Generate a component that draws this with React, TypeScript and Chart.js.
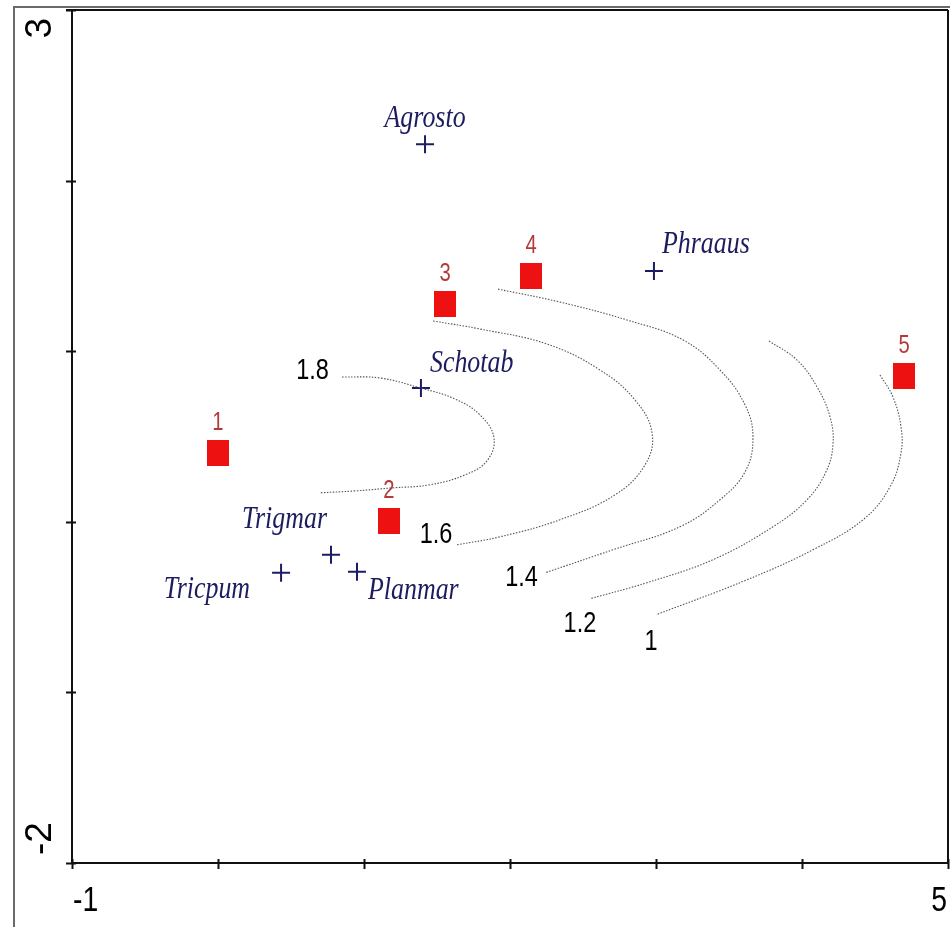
import React, { useEffect, useRef } from 'react';
import { Chart, registerables } from 'chart.js';

Chart.register(...registerables);

// ---- data ----
const sampleNames = ['1', '2', '3', '4', '5'];
const sampleX = [0.0, 1.171, 1.555, 2.144, 4.699];
const sampleY = [0.404, 0.006, 1.276, 1.44, 0.855];

const speciesNames = ['Agrosto', 'Phraaus', 'Schotab', 'Trigmar', 'Tricpum', 'Planmar'];
const speciesX = [1.418, 2.986, 1.39, 0.774, 0.432, 0.952];
const speciesY = [2.213, 1.47, 0.785, -0.193, -0.299, -0.293];

const contourLevels = ['1.8', '1.6', '1.4', '1.2', '1'];

const contour18X = [0.849, 1.11, 1.384, 1.623, 1.795, 1.89, 1.842, 1.692, 1.452, 1.199, 0.938, 0.699];
const contour18Y = [0.849, 0.843, 0.785, 0.72, 0.626, 0.492, 0.357, 0.275, 0.217, 0.199, 0.181, 0.17];

const contour16X = [1.473, 1.795, 2.253, 2.616, 2.856, 2.973, 2.925, 2.719, 2.342, 1.932, 1.637];
const contour16Y = [1.177, 1.13, 1.042, 0.89, 0.714, 0.521, 0.334, 0.158, 0.012, -0.088, -0.135];

const contour14X = [1.918, 2.342, 2.801, 3.185, 3.438, 3.61, 3.664, 3.61, 3.438, 3.164, 2.705, 2.24];
const contour14Y = [1.364, 1.288, 1.183, 1.066, 0.89, 0.685, 0.492, 0.293, 0.129, -0.029, -0.164, -0.299];

const contour12X = [3.774, 3.966, 4.103, 4.192, 4.212, 4.164, 4.034, 3.801, 3.39, 2.938, 2.548];
const contour12Y = [1.06, 0.948, 0.79, 0.615, 0.451, 0.293, 0.129, -0.029, -0.222, -0.357, -0.451];

const contour10X = [4.534, 4.623, 4.678, 4.678, 4.603, 4.418, 4.075, 3.623, 3.0];
const contour10Y = [0.861, 0.732, 0.556, 0.404, 0.205, 0.012, -0.164, -0.34, -0.545];

const contourLabelX = [0.647, 1.493, 2.079, 2.479, 2.966];
const contourLabelY = [0.884, -0.076, -0.328, -0.597, -0.705];

const xMin = -1;
const xMax = 5;
const yMin = -2;
const yMax = 3;
const xTickLabelValues = [-1, 5];
const xTickLabels = ['-1', '5'];
const yTickLabelValues = [-2, 3];
const yTickLabels = ['-2', '3'];

// ---- layout / style (not data) ----
const SQUISH = 0.81;
const speciesLabelLayout = [
  { dx: 0, dy: -17, align: 'center' },
  { dx: 8, dy: -18, align: 'left' },
  { dx: 9, dy: -16, align: 'left' },
  { dx: -4, dy: -27, align: 'right' },
  { dx: -31, dy: 25, align: 'right' },
  { dx: 11, dy: 27, align: 'left' },
];

function zip(xs: number[], ys: number[]) {
  return xs.map((x, i) => ({ x, y: ys[i] }));
}

function drawSquished(ctx: CanvasRenderingContext2D, text: string, x: number, y: number, align: CanvasTextAlign, baseline: CanvasTextBaseline) {
  ctx.save();
  ctx.translate(x, y);
  ctx.scale(SQUISH, 1);
  ctx.textAlign = align;
  ctx.textBaseline = baseline;
  ctx.fillText(text, 0, 0);
  ctx.restore();
}

export default function App() {
  const ref = useRef<HTMLCanvasElement | null>(null);

  useEffect(() => {
    document.body.style.margin = '0';
    const canvas = ref.current;
    if (!canvas) return;

    const sq = document.createElement('canvas');
    sq.width = 22;
    sq.height = 26;
    const sctx = sq.getContext('2d')!;
    sctx.fillStyle = '#ee1111';
    sctx.fillRect(0, 0, 22, 26);

    const contours = [
      zip(contour18X, contour18Y),
      zip(contour16X, contour16Y),
      zip(contour14X, contour14Y),
      zip(contour12X, contour12Y),
      zip(contour10X, contour10Y),
    ];

    const decor = {
      id: 'decor',
      afterDraw(chart: any) {
        const ctx: CanvasRenderingContext2D = chart.ctx;
        const xs = chart.scales.x;
        const ys = chart.scales.y;
        const area = chart.chartArea;
        ctx.save();
        // outer frame
        ctx.strokeStyle = '#6a6a6a';
        ctx.lineWidth = 2;
        ctx.strokeRect(14, 7, 980, 960);
        // top and right border
        ctx.strokeStyle = '#111';
        ctx.lineWidth = 2;
        ctx.beginPath();
        ctx.moveTo(66, area.top);
        ctx.lineTo(area.right, area.top);
        ctx.moveTo(area.right, area.top);
        ctx.lineTo(area.right, area.bottom);
        ctx.stroke();
        // tick marks
        ctx.beginPath();
        xs.ticks.forEach((t: any) => {
          const px = Math.round(xs.getPixelForValue(t.value)) + 0.5;
          ctx.moveTo(px, area.bottom - 4);
          ctx.lineTo(px, area.bottom + 6);
        });
        ys.ticks.forEach((t: any) => {
          const py = Math.round(ys.getPixelForValue(t.value)) + 0.5;
          ctx.moveTo(area.left - 6, py);
          ctx.lineTo(area.left + 4, py);
        });
        ctx.stroke();
        // axis labels
        ctx.fillStyle = '#000';
        ctx.font = '35px "Liberation Sans", Arial, sans-serif';
        xTickLabelValues.forEach((v, i) => {
          const px = xs.getPixelForValue(v);
          const first = i === 0;
          drawSquished(ctx, xTickLabels[i], first ? px + 1 : px - 1, 901, first ? 'left' : 'right', 'middle');
        });
        ctx.font = '37px "Liberation Sans", Arial, sans-serif';
        yTickLabelValues.forEach((v, i) => {
          const py = ys.getPixelForValue(v);
          const first = i === 0;
          ctx.save();
          ctx.translate(41, first ? py - 8 : py + 8);
          ctx.rotate(-Math.PI / 2);
          ctx.textAlign = first ? 'left' : 'right';
          ctx.textBaseline = 'middle';
          ctx.fillText(yTickLabels[i], 0, 0);
          ctx.restore();
        });
        // contour labels
        ctx.fillStyle = '#000';
        ctx.font = '29px "Liberation Sans", Arial, sans-serif';
        contourLevels.forEach((lab, i) => {
          drawSquished(ctx, lab, xs.getPixelForValue(contourLabelX[i]), ys.getPixelForValue(contourLabelY[i]), 'center', 'middle');
        });
        // sample labels
        ctx.fillStyle = '#b33a3a';
        ctx.font = '25px "Liberation Sans", Arial, sans-serif';
        sampleNames.forEach((lab, i) => {
          drawSquished(ctx, lab, xs.getPixelForValue(sampleX[i]), ys.getPixelForValue(sampleY[i]) - 30, 'center', 'middle');
        });
        // species labels
        ctx.fillStyle = '#1c1c5e';
        ctx.font = 'italic 32px "Liberation Serif", "Times New Roman", serif';
        speciesNames.forEach((lab, i) => {
          const l = speciesLabelLayout[i];
          drawSquished(ctx, lab, xs.getPixelForValue(speciesX[i]) + l.dx, ys.getPixelForValue(speciesY[i]) + l.dy, l.align as CanvasTextAlign, 'alphabetic');
        });
        ctx.restore();
      },
    };

    const contourSets = contours.map((pts, i) => ({
      label: 'contour ' + contourLevels[i],
      data: pts,
      showLine: true,
      borderColor: '#555',
      borderWidth: 1.1,
      borderDash: [1.5, 1.5],
      pointRadius: 0,
      tension: 0.4,
      fill: false,
    }));

    const chart = new Chart(canvas, {
      type: 'scatter',
      data: {
        datasets: [
          ...contourSets,
          {
            label: 'samples',
            data: zip(sampleX, sampleY),
            pointStyle: sq as any,
            pointRadius: 12,
            showLine: false,
          },
          {
            label: 'species',
            data: zip(speciesX, speciesY),
            pointStyle: 'cross',
            pointRadius: 9,
            borderColor: '#1c1c64',
            borderWidth: 2,
            showLine: false,
          },
        ] as any,
      },
      options: {
        animation: false,
        responsive: false,
        layout: { autoPadding: false, padding: { left: 72, top: 10, right: 2, bottom: 64 } },
        plugins: { legend: { display: false }, tooltip: { enabled: false } },
        scales: {
          x: {
            type: 'linear',
            min: xMin,
            max: xMax,
            ticks: { display: false, stepSize: 1 },
            grid: { display: false, drawTicks: false },
            border: { display: true, color: '#111', width: 2 },
          },
          y: {
            type: 'linear',
            min: yMin,
            max: yMax,
            ticks: { display: false, stepSize: 1 },
            grid: { display: false, drawTicks: false },
            border: { display: true, color: '#111', width: 2 },
          },
        },
      },
      plugins: [decor],
    });

    return () => chart.destroy();
  }, []);

  return (
    <div style={{ width: 950, height: 927, position: 'relative', background: '#fff' }}>
      <canvas ref={ref} width={950} height={927} style={{ display: 'block' }} />
    </div>
  );
}
